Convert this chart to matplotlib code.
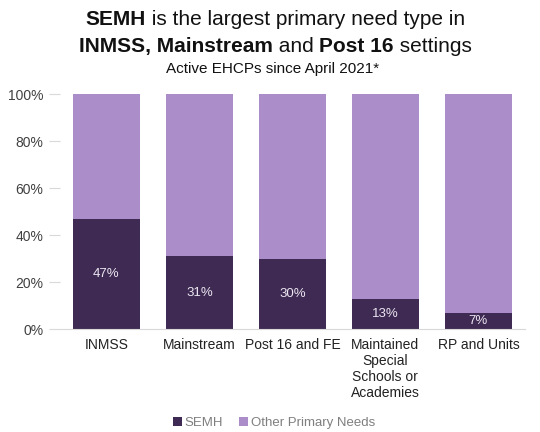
import matplotlib
matplotlib.use("Agg")
import matplotlib.pyplot as plt
from matplotlib.ticker import PercentFormatter
import numpy as np

plt.rcParams['font.family'] = ['Liberation Sans', 'DejaVu Sans']

settings = ["INMSS", "Mainstream", "Post 16 and FE",
            "Maintained\nSpecial\nSchools or\nAcademies", "RP and Units"]
semh = [47, 31, 30, 13, 7]
other = [100 - v for v in semh]

dark = "#3e2a52"
light = "#ab8dca"


def draw_rich_line(fig, y, parts, size, xc=0.5):
    # parts: list of (text, weight); laid out left to right, centred on xc
    renderer = fig.canvas.get_renderer()
    texts = []
    widths = []
    for s, w in parts:
        t = fig.text(0, y, s, fontsize=size, fontweight=w, ha="left", va="center",
                     color="#111111")
        bb = t.get_window_extent(renderer=renderer)
        texts.append(t)
        widths.append(bb.width / fig.bbox.width)
    x = xc - sum(widths) / 2
    for t, w in zip(texts, widths):
        t.set_x(x)
        x += w


fig = plt.figure(figsize=(5.4, 4.32), dpi=100)
ax = fig.add_axes([0.111, 0.238, 0.861, 0.544])

x = np.arange(len(settings))
ax.bar(x, semh, width=0.72, color=dark, label="SEMH")
ax.bar(x, other, width=0.72, bottom=semh, color=light, label="Other Primary Needs")

for xi, v in zip(x, semh):
    ax.text(xi, v / 2, f"{v}%", ha="center", va="center", color="#ece6f2", fontsize=9.5)

ax.set_ylim(0, 100)
ax.set_xlim(-0.5, len(settings) - 0.5)
ax.set_yticks(range(0, 101, 20))
ax.yaxis.set_major_formatter(PercentFormatter(decimals=0))
ax.set_xticks(x)
ax.set_xticklabels(settings, fontsize=10, color="#222222", linespacing=1.2)
ax.tick_params(axis="y", labelsize=10, labelcolor="#404040", length=8, color="#d9d9d9",
               pad=4)
ax.tick_params(axis="x", length=0, pad=6)
for s in ["top", "right", "left"]:
    ax.spines[s].set_visible(False)
ax.spines["bottom"].set_color("#d9d9d9")

ax.legend(loc="center", bbox_to_anchor=(0.46, -0.40), ncol=2, frameon=False,
          fontsize=9.5, handlelength=0.7, handleheight=0.7, handletextpad=0.2,
          columnspacing=1.2, labelcolor="#7f7f7f")

draw_rich_line(fig, 0.956, [("SEMH", "bold"), (" is the largest primary need type in", "normal")],
               15, xc=0.51)
draw_rich_line(fig, 0.893, [("INMSS, Mainstream", "bold"), (" and ", "normal"),
                            ("Post 16", "bold"), (" settings", "normal")], 15, xc=0.51)
fig.text(0.505, 0.84, "Active EHCPs since April 2021*", ha="center", va="center",
         fontsize=11, color="#111111")

fig.savefig("out.png", dpi=100)
